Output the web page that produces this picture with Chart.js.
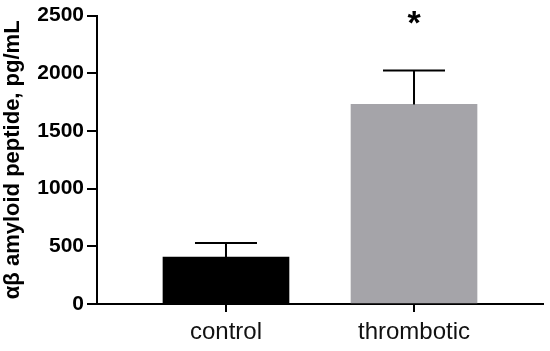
<!DOCTYPE html>
<html>
<head>
<meta charset="utf-8">
<script src="https://cdn.jsdelivr.net/npm/chart.js@4"></script>
<style>
  html, body { margin: 0; padding: 0; background: #fff; }
  #wrap { width: 550px; height: 351px; }
</style>
</head>
<body>
<div id="wrap"><canvas id="myChart" width="550" height="351"></canvas></div>
<script>
const groups = ['control', 'thrombotic'];
const means = [406, 1730];
const errUpper = [528, 2024];
const marks = ['', '*'];
const barColors = ['#000000', '#a5a4a9'];
const yTicks = [0, 500, 1000, 1500, 2000, 2500];

// error bars + significance star, drawn through the chart scales
const errorBars = {
    id: 'errorBars',
    afterDatasetsDraw(chart) {
        const ctx = chart.ctx;
        const xs = chart.scales.x, ys = chart.scales.y;
        ctx.save();
        ctx.strokeStyle = '#000';
        ctx.lineWidth = 2;
        groups.forEach(function(g, i) {
            const px = xs.getPixelForValue(i + 1);
            const top = ys.getPixelForValue(errUpper[i]);
            const base = ys.getPixelForValue(means[i]);
            ctx.beginPath();
            ctx.moveTo(px, base);
            ctx.lineTo(px, top);
            ctx.moveTo(px - 31, top);
            ctx.lineTo(px + 31, top);
            ctx.stroke();
            if (marks[i]) {
                ctx.fillStyle = '#000';
                ctx.font = 'bold 34px "Liberation Sans", Arial, sans-serif';
                ctx.textAlign = 'center';
                ctx.textBaseline = 'top';
                ctx.fillText(marks[i], px, ys.getPixelForValue(2500) - 8);
            }
        });
        ctx.restore();
    }
};

const ctx = document.getElementById('myChart');
const myChart = new Chart(ctx, {
    type: 'bar',
    data: {
        datasets: [{
            data: means.map((v, i) => ({ x: i + 1, y: v })),
            backgroundColor: barColors,
            borderWidth: 0,
            barThickness: 126
        }]
    },
    options: {
        responsive: false,
        animation: false,
        layout: { padding: { top: 15, right: 7, left: 0, bottom: 0 } },
        plugins: { legend: { display: false }, tooltip: { enabled: false } },
        scales: {
            x: {
                type: 'linear',
                offset: false,
                min: 0.314,
                max: 2.686,
                afterBuildTicks: function(scale) {
                    scale.ticks = groups.map((g, i) => ({ value: i + 1 }));
                },
                afterFit: function(scale) { scale.height = 47; },
                ticks: {
                    callback: function(v) { return groups[v - 1]; },
                    color: '#111',
                    font: { family: '"Liberation Sans", Arial, sans-serif', size: 24 },
                    padding: 6,
                    maxRotation: 0,
                    autoSkip: false
                },
                grid: { offset: false, drawOnChartArea: false, drawTicks: true, tickLength: 8, color: '#000', lineWidth: 2 },
                border: { display: true, color: '#000', width: 2 }
            },
            y: {
                min: 0,
                max: 2500,
                afterBuildTicks: function(scale) {
                    scale.ticks = yTicks.map(v => ({ value: v }));
                },
                afterFit: function(scale) { scale.width = 97; },
                ticks: {
                    callback: function(v) { return String(v); },
                    color: '#000',
                    font: { family: '"Liberation Sans", Arial, sans-serif', size: 21, weight: 'bold' },
                    padding: 3
                },
                grid: { drawOnChartArea: false, drawTicks: true, tickLength: 10, color: '#000', lineWidth: 2 },
                border: { display: true, color: '#000', width: 2 },
                title: {
                    display: true,
                    text: 'αβ amyloid peptide, pg/mL',
                    color: '#000',
                    font: { family: '"Liberation Sans", Arial, sans-serif', size: 22, weight: 'bold' },
                    padding: { top: 0, bottom: 0 }
                }
            }
        }
    },
    plugins: [errorBars]
});
</script>
</body>
</html>
